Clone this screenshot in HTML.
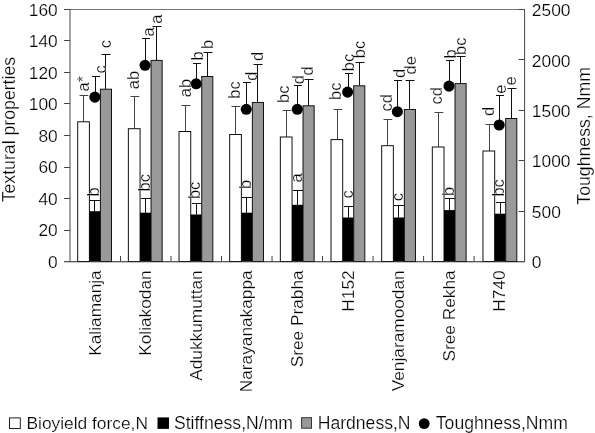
<!DOCTYPE html><html><head><meta charset="utf-8"><style>
html,body{margin:0;padding:0;background:#fff}
svg{display:block;will-change:transform}
.lg text{font-size:17.6px}
text{font-family:"Liberation Sans",sans-serif;font-size:17.3px;fill:#000;stroke:#fff;stroke-width:0.22px}
</style></head><body>
<svg width="595" height="433" viewBox="0 0 595 433">
<rect width="595" height="433" fill="#fff"/>
<path d="M83.50 121.80V95.50M79.50 95.50H88.30" stroke="#444" stroke-width="1" fill="none"/>
<path d="M105.50 89.20V54.50M101.50 54.50H110.50" stroke="#111" stroke-width="1" fill="none"/>
<path d="M95.50 97.40V76.50M92.00 76.50H100.00" stroke="#111" stroke-width="1" fill="none"/>
<rect x="77.70" y="121.80" width="11.70" height="139.70" fill="#fff" stroke="#111" stroke-width="1"/>
<rect x="89.40" y="211.20" width="11.00" height="50.30" fill="#000"/>
<rect x="100.40" y="89.20" width="11.10" height="172.30" fill="#999" stroke="#111" stroke-width="1"/>
<path d="M94.50 211.40V200.50M89.90 200.50H99.90" stroke="#111" stroke-width="1" fill="none"/>
<circle cx="94.85" cy="97.10" r="5.55" fill="#000"/>
<path d="M134.50 128.70V96.50M130.50 96.50H139.30" stroke="#444" stroke-width="1" fill="none"/>
<path d="M156.50 60.40V26.50M152.50 26.50H161.50" stroke="#111" stroke-width="1" fill="none"/>
<path d="M145.50 65.60V38.50M142.00 38.50H150.00" stroke="#111" stroke-width="1" fill="none"/>
<rect x="128.36" y="128.70" width="11.70" height="132.80" fill="#fff" stroke="#111" stroke-width="1"/>
<rect x="140.06" y="212.70" width="11.00" height="48.80" fill="#000"/>
<rect x="151.06" y="60.40" width="11.10" height="201.10" fill="#999" stroke="#111" stroke-width="1"/>
<path d="M145.50 212.90V198.50M140.90 198.50H150.90" stroke="#111" stroke-width="1" fill="none"/>
<circle cx="145.05" cy="65.30" r="5.55" fill="#000"/>
<path d="M185.50 131.50V105.50M181.50 105.50H190.30" stroke="#444" stroke-width="1" fill="none"/>
<path d="M207.50 76.50V52.50M203.50 52.50H212.50" stroke="#111" stroke-width="1" fill="none"/>
<path d="M196.50 84.10V63.50M193.00 63.50H201.00" stroke="#111" stroke-width="1" fill="none"/>
<rect x="179.02" y="131.50" width="11.70" height="130.00" fill="#fff" stroke="#111" stroke-width="1"/>
<rect x="190.72" y="214.50" width="11.00" height="47.00" fill="#000"/>
<rect x="201.72" y="76.50" width="11.10" height="185.00" fill="#999" stroke="#111" stroke-width="1"/>
<path d="M196.50 214.70V203.50M191.90 203.50H201.90" stroke="#111" stroke-width="1" fill="none"/>
<circle cx="196.20" cy="83.80" r="5.55" fill="#000"/>
<path d="M235.50 134.50V106.50M231.50 106.50H240.30" stroke="#444" stroke-width="1" fill="none"/>
<path d="M257.50 102.50V64.50M253.50 64.50H262.50" stroke="#111" stroke-width="1" fill="none"/>
<path d="M246.50 109.60V82.50M243.00 82.50H251.00" stroke="#111" stroke-width="1" fill="none"/>
<rect x="229.68" y="134.50" width="11.70" height="127.00" fill="#fff" stroke="#111" stroke-width="1"/>
<rect x="241.38" y="212.70" width="11.00" height="48.80" fill="#000"/>
<rect x="252.38" y="102.50" width="11.10" height="159.00" fill="#999" stroke="#111" stroke-width="1"/>
<path d="M246.50 212.90V197.50M241.90 197.50H251.90" stroke="#111" stroke-width="1" fill="none"/>
<circle cx="246.25" cy="109.30" r="5.55" fill="#000"/>
<path d="M286.50 137.00V110.50M282.50 110.50H291.30" stroke="#444" stroke-width="1" fill="none"/>
<path d="M308.50 105.80V79.50M304.50 79.50H313.50" stroke="#111" stroke-width="1" fill="none"/>
<path d="M297.50 109.60V85.50M294.00 85.50H302.00" stroke="#111" stroke-width="1" fill="none"/>
<rect x="280.34" y="137.00" width="11.70" height="124.50" fill="#fff" stroke="#111" stroke-width="1"/>
<rect x="292.04" y="204.80" width="11.00" height="56.70" fill="#000"/>
<rect x="303.04" y="105.80" width="11.10" height="155.70" fill="#999" stroke="#111" stroke-width="1"/>
<path d="M297.50 205.00V190.50M292.90 190.50H302.90" stroke="#111" stroke-width="1" fill="none"/>
<circle cx="297.30" cy="109.30" r="5.55" fill="#000"/>
<path d="M337.50 139.60V109.50M333.50 109.50H342.30" stroke="#444" stroke-width="1" fill="none"/>
<path d="M359.50 85.80V62.50M355.50 62.50H364.50" stroke="#111" stroke-width="1" fill="none"/>
<path d="M348.50 92.40V73.50M345.00 73.50H353.00" stroke="#111" stroke-width="1" fill="none"/>
<rect x="331.00" y="139.60" width="11.70" height="121.90" fill="#fff" stroke="#111" stroke-width="1"/>
<rect x="342.70" y="217.50" width="11.00" height="44.00" fill="#000"/>
<rect x="353.70" y="85.80" width="11.10" height="175.70" fill="#999" stroke="#111" stroke-width="1"/>
<path d="M348.50 217.70V206.50M343.90 206.50H353.90" stroke="#111" stroke-width="1" fill="none"/>
<circle cx="347.60" cy="92.10" r="5.55" fill="#000"/>
<path d="M387.50 145.70V119.50M383.50 119.50H392.30" stroke="#444" stroke-width="1" fill="none"/>
<path d="M409.50 109.50V80.50M405.50 80.50H414.50" stroke="#111" stroke-width="1" fill="none"/>
<path d="M397.50 112.00V80.50M394.00 80.50H402.00" stroke="#111" stroke-width="1" fill="none"/>
<rect x="381.66" y="145.70" width="11.70" height="115.80" fill="#fff" stroke="#111" stroke-width="1"/>
<rect x="393.36" y="217.50" width="11.00" height="44.00" fill="#000"/>
<rect x="404.36" y="109.50" width="11.10" height="152.00" fill="#999" stroke="#111" stroke-width="1"/>
<path d="M398.50 217.70V205.50M393.90 205.50H403.90" stroke="#111" stroke-width="1" fill="none"/>
<circle cx="397.35" cy="111.70" r="5.55" fill="#000"/>
<path d="M438.50 147.00V112.50M434.50 112.50H443.30" stroke="#444" stroke-width="1" fill="none"/>
<path d="M460.50 83.60V56.50M456.50 56.50H465.50" stroke="#111" stroke-width="1" fill="none"/>
<path d="M449.50 86.40V60.50M446.00 60.50H454.00" stroke="#111" stroke-width="1" fill="none"/>
<rect x="432.32" y="147.00" width="11.70" height="114.50" fill="#fff" stroke="#111" stroke-width="1"/>
<rect x="444.02" y="210.10" width="11.00" height="51.40" fill="#000"/>
<rect x="455.02" y="83.60" width="11.10" height="177.90" fill="#999" stroke="#111" stroke-width="1"/>
<path d="M449.50 210.30V198.50M444.90 198.50H454.90" stroke="#111" stroke-width="1" fill="none"/>
<circle cx="449.00" cy="86.10" r="5.55" fill="#000"/>
<path d="M489.50 151.00V124.50M485.50 124.50H494.30" stroke="#444" stroke-width="1" fill="none"/>
<path d="M511.50 118.50V88.50M507.50 88.50H516.50" stroke="#111" stroke-width="1" fill="none"/>
<path d="M499.50 125.30V95.50M496.00 95.50H504.00" stroke="#111" stroke-width="1" fill="none"/>
<rect x="482.98" y="151.00" width="11.70" height="110.50" fill="#fff" stroke="#111" stroke-width="1"/>
<rect x="494.68" y="213.70" width="11.00" height="47.80" fill="#000"/>
<rect x="505.68" y="118.50" width="11.10" height="143.00" fill="#999" stroke="#111" stroke-width="1"/>
<path d="M500.50 213.90V202.50M495.90 202.50H505.90" stroke="#111" stroke-width="1" fill="none"/>
<circle cx="499.20" cy="125.00" r="5.55" fill="#000"/>
<path d="M70.00 9.50H524.60" stroke="#777" stroke-width="1" fill="none"/>
<path d="M70.00 9.50V261.50M524.60 9.50V261.50" stroke="#444" stroke-width="1" fill="none"/>
<path d="M64.00 261.75H525.10" stroke="#222" stroke-width="1" fill="none"/>
<text x="57.7" y="267.90" text-anchor="end" style="font-size:17.35px">0</text>
<path d="M64.00 230.50H70.00" stroke="#444" stroke-width="1"/>
<text x="57.7" y="236.40" text-anchor="end" style="font-size:17.35px">20</text>
<path d="M64.00 198.50H70.00" stroke="#444" stroke-width="1"/>
<text x="57.7" y="204.90" text-anchor="end" style="font-size:17.35px">40</text>
<path d="M64.00 167.50H70.00" stroke="#444" stroke-width="1"/>
<text x="57.7" y="173.40" text-anchor="end" style="font-size:17.35px">60</text>
<path d="M64.00 135.50H70.00" stroke="#444" stroke-width="1"/>
<text x="57.7" y="141.90" text-anchor="end" style="font-size:17.35px">80</text>
<path d="M64.00 103.50H70.00" stroke="#444" stroke-width="1"/>
<text x="57.7" y="110.40" text-anchor="end" style="font-size:17.35px">100</text>
<path d="M64.00 72.50H70.00" stroke="#444" stroke-width="1"/>
<text x="57.7" y="78.90" text-anchor="end" style="font-size:17.35px">120</text>
<path d="M64.00 40.50H70.00" stroke="#444" stroke-width="1"/>
<text x="57.7" y="47.40" text-anchor="end" style="font-size:17.35px">140</text>
<path d="M64.00 9.50H70.00" stroke="#444" stroke-width="1"/>
<text x="57.7" y="15.90" text-anchor="end" style="font-size:17.35px">160</text>
<text x="531.8" y="268.20" style="font-size:17.4px">0</text>
<path d="M518.60 211.50H524.60" stroke="#444" stroke-width="1"/>
<text x="531.8" y="217.80" style="font-size:17.4px">500</text>
<path d="M518.60 160.50H524.60" stroke="#444" stroke-width="1"/>
<text x="531.8" y="167.40" style="font-size:17.4px">1000</text>
<path d="M518.60 110.50H524.60" stroke="#444" stroke-width="1"/>
<text x="531.8" y="117.00" style="font-size:17.4px">1500</text>
<path d="M518.60 59.50H524.60" stroke="#444" stroke-width="1"/>
<text x="531.8" y="66.60" style="font-size:17.4px">2000</text>
<path d="M518.60 9.50H524.60" stroke="#444" stroke-width="1"/>
<text x="531.8" y="16.20" style="font-size:17.4px">2500</text>
<path d="M120.51 261.50V256.00" stroke="#444" stroke-width="1"/>
<path d="M171.02 261.50V256.00" stroke="#444" stroke-width="1"/>
<path d="M221.53 261.50V256.00" stroke="#444" stroke-width="1"/>
<path d="M272.04 261.50V256.00" stroke="#444" stroke-width="1"/>
<path d="M322.56 261.50V256.00" stroke="#444" stroke-width="1"/>
<path d="M373.07 261.50V256.00" stroke="#444" stroke-width="1"/>
<path d="M423.58 261.50V256.00" stroke="#444" stroke-width="1"/>
<path d="M474.09 261.50V256.00" stroke="#444" stroke-width="1"/>
<text transform="translate(100.65 270.3) rotate(-90)" text-anchor="end">Kaliamanja</text>
<text transform="translate(151.25 270.3) rotate(-90)" text-anchor="end">Koliakodan</text>
<text transform="translate(201.85 270.3) rotate(-90)" text-anchor="end">Adukkumuttan</text>
<text transform="translate(252.45 270.3) rotate(-90)" text-anchor="end">Narayanakappa</text>
<text transform="translate(303.05 270.3) rotate(-90)" text-anchor="end">Sree Prabha</text>
<text transform="translate(353.65 270.3) rotate(-90)" text-anchor="end">H152</text>
<text transform="translate(404.25 270.3) rotate(-90)" text-anchor="end">Venjaramoodan</text>
<text transform="translate(454.85 270.3) rotate(-90)" text-anchor="end">Sree Rekha</text>
<text transform="translate(505.45 270.3) rotate(-90)" text-anchor="end">H740</text>
<text transform="translate(15.1 129.6) rotate(-90)" text-anchor="middle" style="font-size:17.7px">Textural properties</text>
<text transform="translate(590.2 135.9) rotate(-90)" text-anchor="middle" style="font-size:17.7px">Toughness, Nmm</text>
<text transform="translate(88.70 91.50) rotate(-90)" style="font-size:16.5px">a*</text>
<text transform="translate(99.20 196.40) rotate(-90)" style="font-size:16.5px">b</text>
<text transform="translate(105.60 73.60) rotate(-90)" style="font-size:16.5px">c</text>
<text transform="translate(111.00 48.20) rotate(-90)" style="font-size:16.5px">c</text>
<text transform="translate(138.60 89.30) rotate(-90)" style="font-size:16.5px">ab</text>
<text transform="translate(150.30 191.50) rotate(-90)" style="font-size:16.5px">bc</text>
<text transform="translate(154.20 36.50) rotate(-90)" style="font-size:16.5px">a</text>
<text transform="translate(162.40 23.80) rotate(-90)" style="font-size:16.5px">a</text>
<text transform="translate(191.00 97.30) rotate(-90)" style="font-size:16.5px">ab</text>
<text transform="translate(200.40 199.10) rotate(-90)" style="font-size:16.5px">bc</text>
<text transform="translate(202.50 60.50) rotate(-90)" style="font-size:16.5px">b</text>
<text transform="translate(213.40 49.00) rotate(-90)" style="font-size:16.5px">b</text>
<text transform="translate(239.50 98.70) rotate(-90)" style="font-size:16.5px">bc</text>
<text transform="translate(250.70 189.00) rotate(-90)" style="font-size:16.5px">b</text>
<text transform="translate(257.00 80.70) rotate(-90)" style="font-size:16.5px">d</text>
<text transform="translate(263.40 61.00) rotate(-90)" style="font-size:16.5px">d</text>
<text transform="translate(289.30 102.90) rotate(-90)" style="font-size:16.5px">bc</text>
<text transform="translate(301.60 182.60) rotate(-90)" style="font-size:16.5px">a</text>
<text transform="translate(303.60 84.20) rotate(-90)" style="font-size:16.5px">d</text>
<text transform="translate(313.10 75.60) rotate(-90)" style="font-size:16.5px">d</text>
<text transform="translate(340.50 99.90) rotate(-90)" style="font-size:16.5px">bc</text>
<text transform="translate(353.00 198.40) rotate(-90)" style="font-size:16.5px">c</text>
<text transform="translate(354.30 71.30) rotate(-90)" style="font-size:16.5px">bc</text>
<text transform="translate(364.70 58.30) rotate(-90)" style="font-size:16.5px">bc</text>
<text transform="translate(392.40 111.50) rotate(-90)" style="font-size:16.5px">cd</text>
<text transform="translate(403.00 201.20) rotate(-90)" style="font-size:16.5px">c</text>
<text transform="translate(404.70 78.00) rotate(-90)" style="font-size:16.5px">d</text>
<text transform="translate(416.20 74.50) rotate(-90)" style="font-size:16.5px">de</text>
<text transform="translate(442.30 104.50) rotate(-90)" style="font-size:16.5px">cd</text>
<text transform="translate(453.90 196.10) rotate(-90)" style="font-size:16.5px">b</text>
<text transform="translate(456.00 58.50) rotate(-90)" style="font-size:16.5px">b</text>
<text transform="translate(465.80 54.90) rotate(-90)" style="font-size:16.5px">bc</text>
<text transform="translate(494.30 116.00) rotate(-90)" style="font-size:16.5px">d</text>
<text transform="translate(504.30 196.60) rotate(-90)" style="font-size:16.5px">bc</text>
<text transform="translate(505.80 93.70) rotate(-90)" style="font-size:16.5px">e</text>
<text transform="translate(515.50 85.40) rotate(-90)" style="font-size:16.5px">e</text>
<g class="lg">
<rect x="9.5" y="417.9" width="10.8" height="10.6" fill="#fff" stroke="#222" stroke-width="1"/>
<text x="26.5" y="428.8" style="font-size:17.35px">Bioyield force,N</text>
<rect x="157.5" y="417.4" width="11.5" height="11.5" fill="#000"/>
<text x="174" y="428.8">Stiffness,N/mm</text>
<rect x="301.6" y="417.7" width="9.9" height="10.5" fill="#999" stroke="#333" stroke-width="1"/>
<text x="317.7" y="428.8">Hardness,N</text>
<circle cx="424.2" cy="423.6" r="5.4" fill="#000"/>
<text x="435.8" y="428.8">Toughness,Nmm</text>
</g>
</svg></body></html>
